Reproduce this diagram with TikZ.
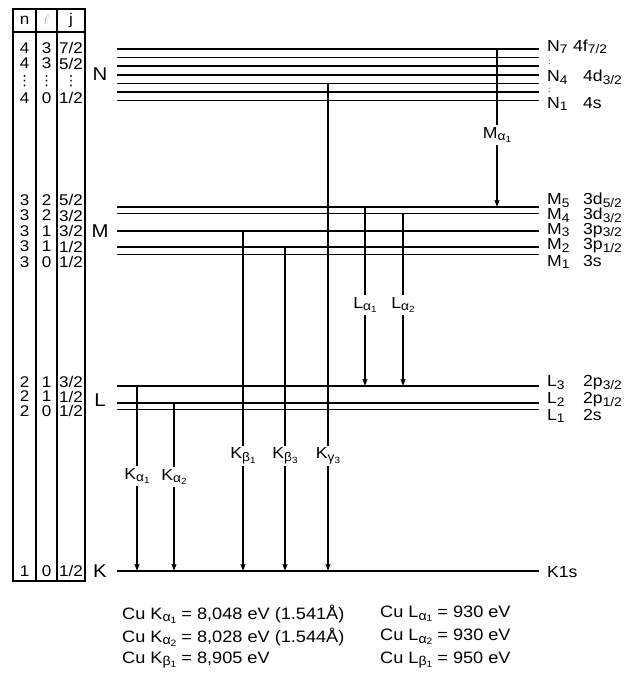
\documentclass[tikz,border=0pt]{standalone}
\usepackage{fontspec}
\setmainfont{Liberation Sans}[FakeStretch=1.1]
\newfontfamily\dotfont{DejaVu Sans}
\usetikzlibrary{arrows.meta}
\newcommand{\sbs}[1]{\raisebox{-0.3ex}{\fontsize{\the\dimexpr 0.78\fontdimen6\font\relax}{0pt}\selectfont #1}}
\newcommand{\ssbs}[1]{\raisebox{-0.25ex}{\fontsize{\the\dimexpr 0.72\fontdimen6\font\relax}{0pt}\selectfont #1}}

\begin{document}
\begin{tikzpicture}[
  x=1pt, y=-1pt,
  lvl/.style={line width=1.1pt},
  trans/.style={line width=1.1pt},
  tbl/.style={line width=1.1pt},
  tlbl/.style={inner sep=2pt, font=\fontsize{16}{16}\selectfont},
  cell/.style={inner sep=0pt, font=\fontsize{15.5}{15.5}\selectfont},
  shell/.style={inner sep=0pt, font=\fontsize{18.5}{18.5}\selectfont},
  orb/.style={anchor=west, inner sep=0pt, font=\fontsize{16}{16}\selectfont},
  val/.style={anchor=west, inner sep=0pt, font=\fontsize{16.5}{16.5}\selectfont},
  >={Stealth[length=7pt, width=5pt, inset=1pt]}
]
\useasboundingbox (0,0) rectangle (629,679);

% quantum number table
\draw[tbl] (13,9) rectangle (85,581);
\draw[tbl] (36,9) -- (36,581);
\draw[tbl] (57,9) -- (57,581);
\draw[tbl] (13,32) -- (85,32);
\node[cell] (hn) at (24.5,20) {n};
\node[cell, gray!55] (hl) at (46.5,20) {$\ell$};
\node[cell] (hj) at (71,20) {j};
\foreach \y/\n/\l/\j [count=\i] in {48/4/3/7, 63.5/4/3/5, 98/4/0/1,
    200/3/2/5, 215.5/3/2/3, 231/3/1/3, 246.5/3/1/1, 262/3/0/1,
    382/2/1/3, 396.5/2/1/1, 411/2/0/1, 571/1/0/1}
{
  \node[cell] (n\i) at (24.5,\y) {\n};
  \node[cell] (l\i) at (46.5,\y) {\l};
  \node[cell] (j\i) at (71,\y) {\j/2};
}
\foreach \x [count=\k] in {24.5, 46.5, 71}
  \node[cell, font=\dotfont\fontsize{14}{14}\selectfont] (vd\k) at (\x,81) {⋮};

% shells
\node[shell] (sN) at (100,74) {N};
\node[shell] (sM) at (100,231) {M};
\node[shell] (sL) at (100,400) {L};
\node[shell] (sK) at (100,571) {K};

% energy levels
\foreach \nm/\y in {N7/49, N6/57.5, N5/66, N4/75, N3/83.5, N2/92, N1/100.5,
    M5/207, M4/213.5, M3/231, M2/247, M1/254.5,
    L3/386, L2/403, L1/409.5, K/571}
  \draw[lvl] (117,\y) coordinate (\nm w) -- (539,\y) coordinate (\nm e);

\node[orb] (oN7) at (547,47) {\makebox[26pt][l]{N\sbs{7}}4f\sbs{7/2}};
\node[orb, font=\fontsize{8}{8}\selectfont] (cN6) at (548,62) {:};
\node[orb] (oN4) at (547,77) {\makebox[36pt][l]{N\sbs{4}}4d\sbs{3/2}};
\node[orb, font=\fontsize{8}{8}\selectfont] (cN2) at (548,90) {:};
\node[orb] (oN1) at (547,104) {\makebox[36pt][l]{N\sbs{1}}4s};
\node[orb] (oM5) at (547,200) {\makebox[36pt][l]{M\sbs{5}}3d\sbs{5/2}};
\node[orb] (oM4) at (547,215) {\makebox[36pt][l]{M\sbs{4}}3d\sbs{3/2}};
\node[orb] (oM3) at (547,230.5) {\makebox[36pt][l]{M\sbs{3}}3p\sbs{3/2}};
\node[orb] (oM2) at (547,246) {\makebox[36pt][l]{M\sbs{2}}3p\sbs{1/2}};
\node[orb] (oM1) at (547,262) {\makebox[36pt][l]{M\sbs{1}}3s};
\node[orb] (oL3) at (547,383) {\makebox[36pt][l]{L\sbs{3}}2p\sbs{3/2}};
\node[orb] (oL2) at (547,400) {\makebox[36pt][l]{L\sbs{2}}2p\sbs{1/2}};
\node[orb] (oL1) at (547,416) {\makebox[36pt][l]{L\sbs{1}}2s};
\node[orb] (oK) at (547,572) {K1s};

% transitions
\foreach \t/\x/\y/\from/\to/\txt in {
    ma1/497/135/N7/M5/{M\sbs{α\ssbs{1}}},
    la1/365/305/M5/L3/{L\sbs{α\ssbs{1}}},
    la2/403/305/M4/L3/{L\sbs{α\ssbs{2}}},
    ka1/137/476/L3/K/{K\sbs{α\ssbs{1}}},
    ka2/174/477/L2/K/{K\sbs{α\ssbs{2}}},
    kb1/243/456/M3/K/{K\sbs{β\ssbs{1}}},
    kb3/285/456/M2/K/{K\sbs{β\ssbs{3}}},
    kg3/328/456/N3/K/{K\sbs{γ\ssbs{3}}}}
{
  \node[tlbl] (\t) at (\x,\y) {\txt};
  \draw[trans] (\t |- \from w) -- (\t);
  \draw[trans, ->] (\t) -- (\t |- \to w);
}

% values
\node[val] (vka1) at (122,614) {Cu K\sbs{α\ssbs{1}} = 8,048 eV (1.541Å)};
\node[val] (vka2) at (122,637) {Cu K\sbs{α\ssbs{2}} = 8,028 eV (1.544Å)};
\node[val] (vkb1) at (122,660) {Cu K\sbs{β\ssbs{1}} = 8,905 eV};
\node[val] (vla1) at (380,614) {Cu L\sbs{α\ssbs{1}} = 930 eV};
\node[val] (vla2) at (380,637) {Cu L\sbs{α\ssbs{2}} = 930 eV};
\node[val] (vlb1) at (380,660) {Cu L\sbs{β\ssbs{1}} = 950 eV};
\end{tikzpicture}
\end{document}
